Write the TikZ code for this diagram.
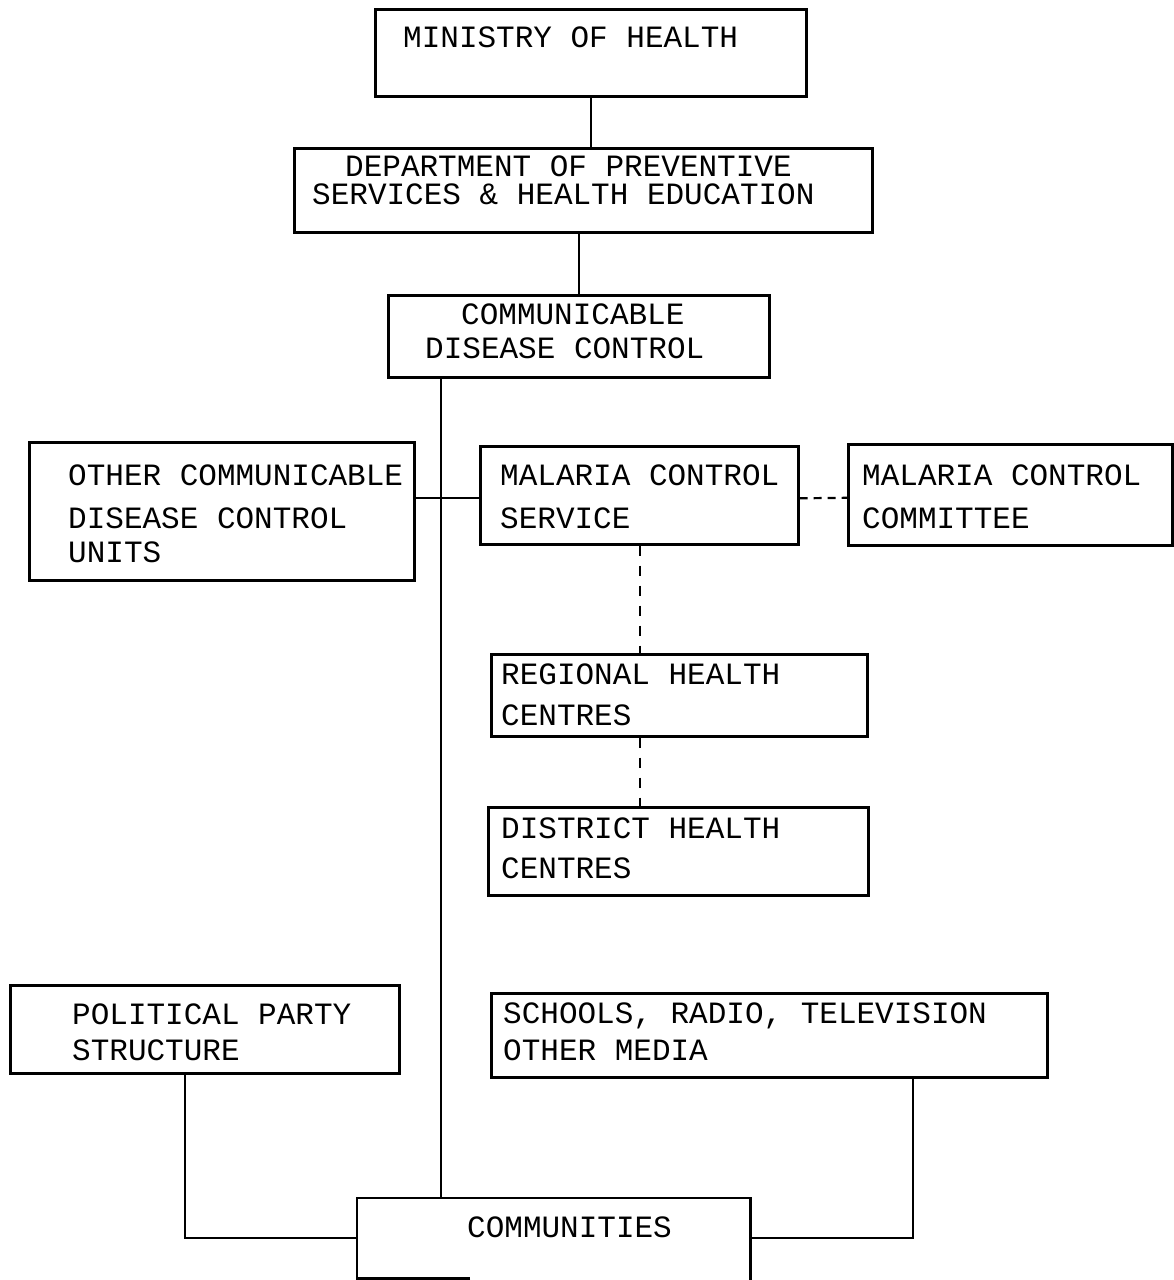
\documentclass[tikz,border=0pt]{standalone}
\usepackage{fontspec}
\setmonofont{Liberation Mono}
\usetikzlibrary{calc}
\begin{document}
\begin{tikzpicture}[x=1pt,y=-1pt,
  box/.style={draw,line width=2.6pt,inner sep=0pt,anchor=north west},
  lbl/.style={anchor=base west,inner sep=0pt,text height=20pt,text depth=0pt,
    font=\ttfamily\fontsize{31}{36}\selectfont},
  link/.style={line width=2.2pt},
  dlink/.style={line width=2.2pt,dash pattern=on 10pt off 10pt},
]
\useasboundingbox (0,0) rectangle (1173,1280);

% boxes
\node[box,minimum width=431pt,minimum height=87pt] (min) at (374,8) {};
\node[box,minimum width=578pt,minimum height=84pt] (dept) at (293,147) {};
\node[box,minimum width=381pt,minimum height=82pt] (cdc) at (387,294) {};
\node[box,minimum width=385pt,minimum height=138pt] (other) at (28,441) {};
\node[box,minimum width=318pt,minimum height=98pt] (mcs) at (479,445) {};
\node[box,minimum width=324pt,minimum height=101pt] (mcc) at (847,443) {};
\node[box,minimum width=376pt,minimum height=82pt] (reg) at (490,653) {};
\node[box,minimum width=380pt,minimum height=88pt] (dist) at (487,806) {};
\node[box,minimum width=389pt,minimum height=88pt] (pol) at (9,984) {};
\node[box,minimum width=556pt,minimum height=84pt] (sch) at (490,992) {};
\node[anchor=north west,inner sep=0pt,minimum width=393pt,minimum height=80pt] (comm) at (357,1198) {};
\draw[line width=2.6pt] ($(comm.south west)+(113,0)$) -- (comm.south west) -- (comm.north west)
  -- (comm.north east) -- ($(comm.south east)+(0,3)$);

% texts
\node[lbl] (t1) at (403,47) {MINISTRY OF HEALTH};
\node[lbl] (t2) at (345,176) {DEPARTMENT OF PREVENTIVE};
\node[lbl] (t3) at (312,204) {SERVICES \& HEALTH EDUCATION};
\node[lbl] (t4) at (461,324) {COMMUNICABLE};
\node[lbl] (t5) at (425,358) {DISEASE CONTROL};
\node[lbl] (t6) at (68,485) {OTHER COMMUNICABLE};
\node[lbl] (t7) at (68,528) {DISEASE CONTROL};
\node[lbl] (t8) at (68,562) {UNITS};
\node[lbl] (t9) at (500,485) {MALARIA CONTROL};
\node[lbl] (t10) at (500,528) {SERVICE};
\node[lbl] (t11) at (862,485) {MALARIA CONTROL};
\node[lbl] (t12) at (862,528) {COMMITTEE};
\node[lbl] (t13) at (501,684) {REGIONAL HEALTH};
\node[lbl] (t14) at (501,725) {CENTRES};
\node[lbl] (t15) at (501,838) {DISTRICT HEALTH};
\node[lbl] (t16) at (501,878) {CENTRES};
\node[lbl] (t17) at (72,1024) {POLITICAL PARTY};
\node[lbl] (t18) at (72,1060) {STRUCTURE};
\node[lbl] (t19) at (503,1023) {SCHOOLS, RADIO, TELEVISION};
\node[lbl] (t20) at (503,1060) {OTHER MEDIA};
\node[lbl] (t21) at (467,1237) {COMMUNITIES};

% connector columns
\coordinate (trunk) at (441,0);
\coordinate (ppx) at (185,0);
\coordinate (smx) at (913,0);
\coordinate (mx) at (640,0);

% connectors
\draw[link] (min.south) -- (min.south |- dept.north);
\draw[link] (cdc.north |- dept.south) -- (cdc.north);
\draw[link] (trunk |- cdc.south) -- (trunk |- comm.north);
\draw[link] ($(mcs.west)+(0,3)$) -- ($(mcs.west -| other.east)+(0,3)$);
\draw[line width=2.2pt,dash pattern=on 8pt off 6pt] ($(mcs.east)+(0,3)$) -- ($(mcc.west)+(0,3)$);
\draw[dlink] (mx |- mcs.south) -- (mx |- reg.north);
\draw[dlink] (mx |- reg.south) -- (mx |- dist.north);
\draw[link] (ppx |- pol.south) -- (ppx |- comm.west) -- (comm.west);
\draw[link] (smx |- sch.south) -- (smx |- comm.east) -- (comm.east);
\end{tikzpicture}
\end{document}
